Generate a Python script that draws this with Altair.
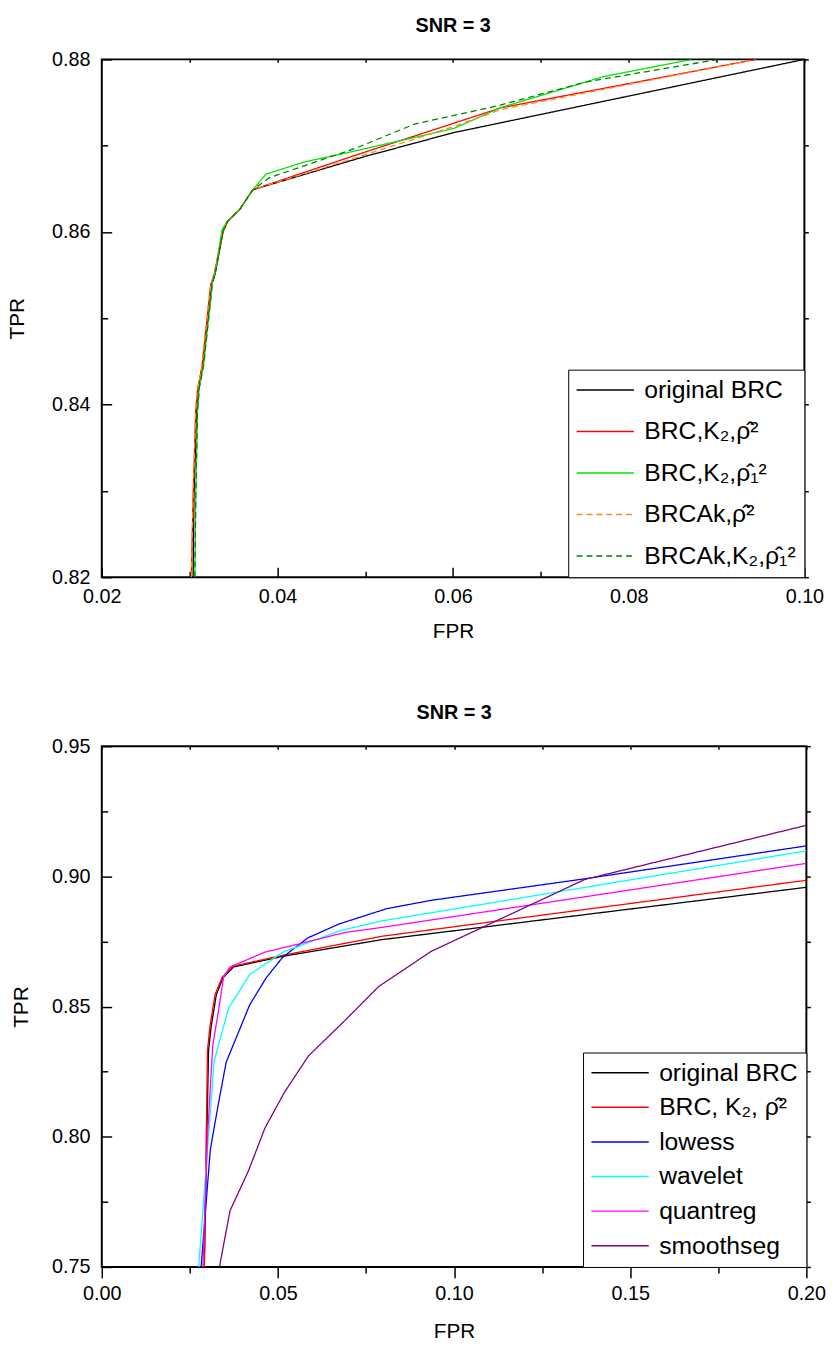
import altair as alt
import pandas as pd

FONT = "Liberation Sans"

# ---------------- Panel 1 (top) ----------------
P1_NAMES = ["original BRC", "BRC,K₂,ρ̂²", "BRC,K₂,ρ̂₁²", "BRCAk,ρ̂²", "BRCAk,K₂,ρ̂₁²"]
P1_COLORS = ["#000000", "#ff0000", "#00e600", "#ff8c1a", "#008000"]
P1_DASHES = [[1, 0], [1, 0], [1, 0], [6, 4], [6, 4]]

P1_ORIG_FPR = [0.0304, 0.0305, 0.0308, 0.0310, 0.0315, 0.0325, 0.0329, 0.0338, 0.0343, 0.0357, 0.0372, 0.0498, 0.0600, 0.1000]
P1_ORIG_TPR = [0.8200, 0.8295, 0.8393, 0.8417, 0.8444, 0.8539, 0.8551, 0.8600, 0.8612, 0.8626, 0.8649, 0.8687, 0.8715, 0.8800]

P1_K2_FPR = [0.0302, 0.0304, 0.0307, 0.0309, 0.0314, 0.0324, 0.0328, 0.0338, 0.0343, 0.0357, 0.0372, 0.0489, 0.0655, 0.0790, 0.0945]
P1_K2_TPR = [0.8200, 0.8295, 0.8393, 0.8417, 0.8444, 0.8539, 0.8551, 0.8600, 0.8612, 0.8626, 0.8649, 0.8689, 0.8744, 0.8770, 0.8800]

P1_K2R1_FPR = [0.0306, 0.0307, 0.0309, 0.0311, 0.0316, 0.0326, 0.0329, 0.0337, 0.0343, 0.0357, 0.0372, 0.0387, 0.0430, 0.0489, 0.0601, 0.0654, 0.0771, 0.0872]
P1_K2R1_TPR = [0.8200, 0.8295, 0.8393, 0.8420, 0.8447, 0.8542, 0.8553, 0.8603, 0.8612, 0.8626, 0.8649, 0.8667, 0.8681, 0.8694, 0.8720, 0.8744, 0.8780, 0.8800]

P1_AK_FPR = [0.0302, 0.0304, 0.0307, 0.0309, 0.0314, 0.0324, 0.0328, 0.0338, 0.0343, 0.0357, 0.0372, 0.0489, 0.0600, 0.0655, 0.0790, 0.0945]
P1_AK_TPR = [0.8200, 0.8295, 0.8393, 0.8417, 0.8444, 0.8539, 0.8551, 0.8600, 0.8612, 0.8626, 0.8649, 0.8686, 0.8722, 0.8742, 0.8769, 0.8800]

P1_AKK2_FPR = [0.0306, 0.0307, 0.0309, 0.0311, 0.0316, 0.0326, 0.0329, 0.0338, 0.0343, 0.0357, 0.0372, 0.0391, 0.0489, 0.0556, 0.0650, 0.0752, 0.0902]
P1_AKK2_TPR = [0.8200, 0.8295, 0.8393, 0.8419, 0.8446, 0.8541, 0.8552, 0.8601, 0.8612, 0.8626, 0.8649, 0.8663, 0.8697, 0.8725, 0.8746, 0.8774, 0.8800]

P1_XMAJOR = [0.02, 0.04, 0.06, 0.08, 0.10]
P1_XMINOR = [0.03, 0.05, 0.07, 0.09]
P1_YMAJOR = [0.82, 0.84, 0.86, 0.88]
P1_YMINOR = [0.83, 0.85, 0.87]

# ---------------- Panel 2 (bottom) ----------------
P2_NAMES = ["original BRC", "BRC, K₂, ρ̂²", "lowess", "wavelet", "quantreg", "smoothseg"]
P2_COLORS = ["#000000", "#ff0000", "#0000ff", "#00ffff", "#ff00ff", "#800080"]

P2_ORIG_FPR = [0.0291, 0.0303, 0.0310, 0.0325, 0.0344, 0.0374, 0.0514, 0.0795, 0.2000]
P2_ORIG_TPR = [0.7500, 0.8330, 0.8418, 0.8545, 0.8611, 0.8652, 0.8693, 0.8757, 0.8958]

P2_K2_FPR = [0.0291, 0.0300, 0.0307, 0.0322, 0.0342, 0.0372, 0.0514, 0.0795, 0.2000]
P2_K2_TPR = [0.7500, 0.8330, 0.8425, 0.8548, 0.8613, 0.8655, 0.8697, 0.8770, 0.8985]

P2_LOWESS_FPR = [0.0282, 0.0308, 0.0331, 0.0353, 0.0420, 0.0467, 0.0514, 0.0584, 0.0673, 0.0809, 0.0935, 0.1357, 0.2000]
P2_LOWESS_TPR = [0.7500, 0.7950, 0.8127, 0.8286, 0.8507, 0.8611, 0.8690, 0.8763, 0.8817, 0.8876, 0.8908, 0.8988, 0.9117]

P2_WAVELET_FPR = [0.0275, 0.0319, 0.0360, 0.0420, 0.0514, 0.0678, 0.0795, 0.2000]
P2_WAVELET_TPR = [0.7500, 0.8292, 0.8494, 0.8623, 0.8709, 0.8792, 0.8829, 0.9098]

P2_QUANT_FPR = [0.0287, 0.0300, 0.0315, 0.0331, 0.0346, 0.0364, 0.0463, 0.0561, 0.0692, 0.0795, 0.2000]
P2_QUANT_TPR = [0.7500, 0.8000, 0.8350, 0.8482, 0.8615, 0.8652, 0.8709, 0.8741, 0.8785, 0.8804, 0.9050]

P2_SMOOTH_FPR = [0.0334, 0.0364, 0.0416, 0.0463, 0.0519, 0.0587, 0.0683, 0.0786, 0.0935, 0.1371, 0.2000]
P2_SMOOTH_TPR = [0.7500, 0.7716, 0.7868, 0.8033, 0.8172, 0.8311, 0.8437, 0.8577, 0.8712, 0.8988, 0.9196]

P2_XMAJOR = [0.0, 0.05, 0.10, 0.15, 0.20]
P2_XMINOR = [0.025, 0.075, 0.125, 0.175]
P2_YMAJOR = [0.75, 0.80, 0.85, 0.90, 0.95]
P2_YMINOR = [0.775, 0.825, 0.875, 0.925]


def frame(names, series):
    rows = []
    for name, (fx, ty) in zip(names, series):
        for i, (a, b) in enumerate(zip(fx, ty)):
            rows.append({"series": name, "fpr": a, "tpr": b, "i": i})
    return pd.DataFrame(rows)


df1 = frame(P1_NAMES, [(P1_ORIG_FPR, P1_ORIG_TPR), (P1_K2_FPR, P1_K2_TPR),
                       (P1_K2R1_FPR, P1_K2R1_TPR), (P1_AK_FPR, P1_AK_TPR),
                       (P1_AKK2_FPR, P1_AKK2_TPR)])
df2 = frame(P2_NAMES, [(P2_ORIG_FPR, P2_ORIG_TPR), (P2_K2_FPR, P2_K2_TPR),
                       (P2_LOWESS_FPR, P2_LOWESS_TPR), (P2_WAVELET_FPR, P2_WAVELET_TPR),
                       (P2_QUANT_FPR, P2_QUANT_TPR), (P2_SMOOTH_FPR, P2_SMOOTH_TPR)])


def label_axis(values, title, label_pad, title_pad):
    return alt.Axis(values=values, format=".2f", ticks=False, domain=False,
                    grid=False, labelFont=FONT, labelFontSize=20, labelColor="black",
                    labelPadding=label_pad, labelFlush=False, labelOverlap=False,
                    title=title, titleFont=FONT, titleFontSize=21, titleFontWeight="normal",
                    titleColor="black", titlePadding=title_pad)


def tick_axis(orient, offset, values, size):
    return alt.Axis(orient=orient, offset=offset, values=values, labels=False, domain=False,
                    grid=False, ticks=True, tickColor="black", tickWidth=1.5,
                    tickSize=size, title=None, minExtent=0)


def tick_layer(df, xs, ys, xaxis, yaxis):
    return alt.Chart(df).mark_point(opacity=0).encode(
        x=alt.X("fpr:Q", scale=xs, axis=xaxis),
        y=alt.Y("tpr:Q", scale=ys, axis=yaxis),
    )


def panel(df, names, colors, dashes, xdom, ydom, W, H, xmajor, xminor, ymajor, yminor,
          x_label_pad, x_title_pad, y_label_pad, y_title_pad, bottom_in, row_pad):
    xs = alt.Scale(domain=xdom, zero=False, nice=False)
    ys = alt.Scale(domain=ydom, zero=False, nice=False)
    legend = alt.Legend(title=None, orient="bottom-right", offset=0,
                        symbolType="M-3,0H3", symbolSize=374, symbolStrokeWidth=1.5,
                        symbolOffset=17, labelOffset=27, labelFont=FONT, labelFontSize=25,
                        labelColor="black", labelLimit=400, rowPadding=row_pad, padding=8,
                        strokeColor="black", fillColor="white", cornerRadius=0)
    lines = alt.Chart(df).mark_line(strokeWidth=1.3, clip=True).encode(
        x=alt.X("fpr:Q", scale=xs, axis=label_axis(xmajor, "FPR", x_label_pad, x_title_pad)),
        y=alt.Y("tpr:Q", scale=ys, axis=label_axis(ymajor, "TPR", y_label_pad, y_title_pad)),
        color=alt.Color("series:N", scale=alt.Scale(domain=names, range=colors), legend=legend),
        strokeDash=alt.StrokeDash("series:N", scale=alt.Scale(domain=names, range=dashes), legend=legend),
        order=alt.Order("i:Q"),
    )
    if bottom_in:
        bx_major = tick_axis("top", -H, xmajor, 10)
        bx_minor = tick_axis("top", -H, xminor, 6)
    else:
        bx_major = tick_axis("bottom", 0, xmajor, 11)
        bx_minor = tick_axis("bottom", 0, xminor, 6)
    major = tick_layer(df, xs, ys, bx_major, tick_axis("right", -W, ymajor, 10))
    minor = tick_layer(df, xs, ys, bx_minor, tick_axis("right", -W, yminor, 6))
    outer = tick_layer(df, xs, ys, tick_axis("bottom", -H, xmajor + xminor, 3),
                       tick_axis("right", 0, ymajor + yminor, 4))
    return alt.layer(lines, major, minor, outer).resolve_axis(
        x="independent", y="independent"
    ).properties(
        width=W, height=H,
        title=alt.TitleParams("SNR = 3", font=FONT, fontSize=20, fontWeight="bold",
                              color="black", anchor="middle", frame="group", offset=14),
    )


p1 = panel(df1, P1_NAMES, P1_COLORS, P1_DASHES, [0.02, 0.10], [0.82, 0.88], 711, 524,
           P1_XMAJOR, P1_XMINOR, P1_YMAJOR, P1_YMINOR, 10, 14, 12, 24, True, 16)
p2 = panel(df2, P2_NAMES, P2_COLORS, [[1, 0]] * 6, [0.0, 0.20], [0.75, 0.95], 713, 527,
           P2_XMAJOR, P2_XMINOR, P2_YMAJOR, P2_YMINOR, 17, 17, 12, 20, False, 9)

chart = alt.vconcat(p1, p2, spacing=60).resolve_scale(
    color="independent", strokeDash="independent"
).properties(
    padding={"left": 6, "top": 7, "right": 10, "bottom": 5},
    background="white",
).configure_view(stroke="black", strokeWidth=2)

chart.save("out.html", embed_options={"renderer": "svg", "actions": False})
